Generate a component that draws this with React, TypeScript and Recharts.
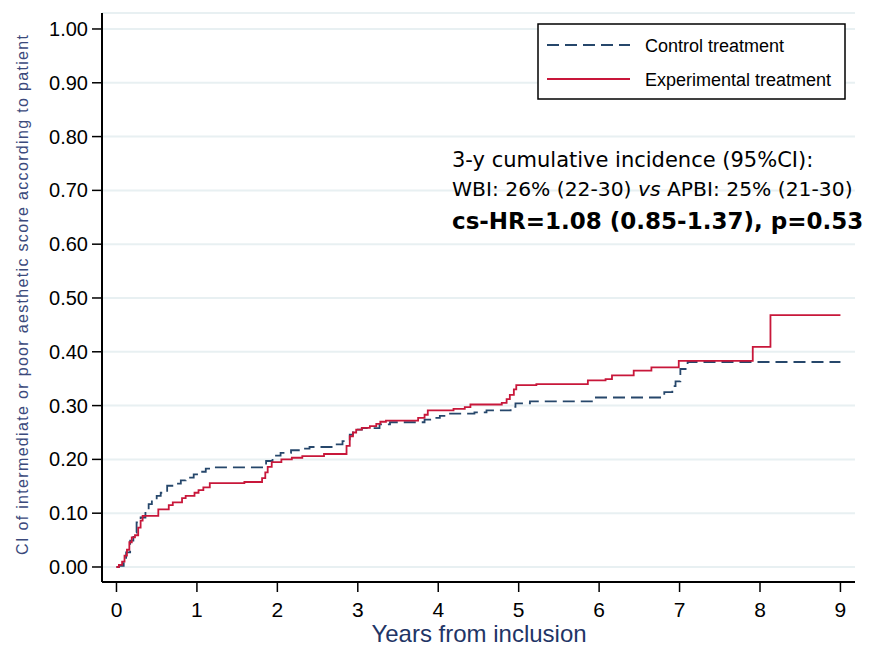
import React from 'react';
import { LineChart, Line, XAxis, YAxis, CartesianGrid } from 'recharts';

const yearTicks = [0, 1, 2, 3, 4, 5, 6, 7, 8, 9];
const ciTicks = [0, 0.1, 0.2, 0.3, 0.4, 0.5, 0.6, 0.7, 0.8, 0.9, 1.0];

const seriesNames = ['Control treatment', 'Experimental treatment'];

const controlTime = [0, 0.03, 0.09, 0.12, 0.17, 0.21, 0.25, 0.3, 0.36, 0.4, 0.44, 0.5, 0.55, 0.63, 0.73, 0.8, 0.86, 0.96, 1.02, 1.11, 1.21, 1.81, 1.86, 1.94, 2.04, 2.17, 2.31, 2.4, 2.69, 2.81, 2.9, 2.94, 3.05, 3.27, 3.4, 3.83, 3.9, 4.02, 4.1, 4.45, 4.6, 4.9, 4.96, 5.14, 5.94, 6.81, 6.91, 6.95, 7.01, 7.1, 9.0];
const controlCI = [0, 0.002, 0.012, 0.027, 0.049, 0.064, 0.083, 0.092, 0.104, 0.117, 0.125, 0.132, 0.138, 0.151, 0.155, 0.161, 0.166, 0.172, 0.177, 0.183, 0.185, 0.189, 0.197, 0.207, 0.212, 0.217, 0.22, 0.223, 0.228, 0.234, 0.246, 0.2555, 0.258, 0.265, 0.269, 0.274, 0.277, 0.281, 0.285, 0.2875, 0.291, 0.2975, 0.304, 0.308, 0.315, 0.325, 0.336, 0.345, 0.368, 0.381, 0.381];

const experimentalTime = [0, 0.03, 0.07, 0.1, 0.13, 0.16, 0.19, 0.23, 0.27, 0.3, 0.325, 0.52, 0.65, 0.7, 0.815, 0.86, 0.97, 1.02, 1.08, 1.16, 1.59, 1.81, 1.85, 1.88, 1.93, 2.05, 2.18, 2.31, 2.58, 2.86, 2.9, 2.94, 2.98, 3.05, 3.15, 3.23, 3.28, 3.35, 3.75, 3.83, 3.87, 4.19, 4.33, 4.4, 4.79, 4.85, 4.89, 4.94, 4.97, 5.22, 5.86, 6.08, 6.16, 6.43, 6.65, 6.99, 7.91, 8.13, 9.0];
const experimentalCI = [0, 0.004, 0.01, 0.021, 0.032, 0.046, 0.055, 0.059, 0.073, 0.086, 0.095, 0.107, 0.115, 0.12, 0.128, 0.132, 0.138, 0.143, 0.148, 0.156, 0.158, 0.165, 0.176, 0.186, 0.195, 0.2, 0.203, 0.206, 0.21, 0.225, 0.243, 0.25, 0.2555, 0.2585, 0.262, 0.266, 0.27, 0.272, 0.277, 0.283, 0.291, 0.294, 0.297, 0.302, 0.305, 0.312, 0.32, 0.33, 0.338, 0.34, 0.347, 0.349, 0.356, 0.365, 0.371, 0.383, 0.409, 0.468, 0.468];

const controlData = controlTime.map((t, i) => ({ t, ci: controlCI[i] }));
const experimentalData = experimentalTime.map((t, i) => ({ t, ci: experimentalCI[i] }));

const BLUE = '#26476b';
const RED = '#c8173a';
const SANS = '"Liberation Sans", Arial, sans-serif';
const DV = '"DejaVu Sans", sans-serif';

export default function App() {
  return (
    <div style={{ position: 'absolute', left: 0, top: 0, width: 870, height: 646, background: '#fff' }}>
      <LineChart
        width={870}
        height={646}
        margin={{ top: 13, right: 15, left: 10, bottom: 0 }}
      >
        <CartesianGrid vertical={false} stroke="#e8f0f2" strokeWidth={2} />
        <XAxis
          dataKey="t"
          type="number"
          domain={[-0.18, 9.181]}
          ticks={yearTicks}
          allowDataOverflow
          height={64}
          tickSize={10}
          tickMargin={10}
          axisLine={{ stroke: '#000', strokeWidth: 2 }}
          tickLine={{ stroke: '#000', strokeWidth: 1.5 }}
          tick={{ fontSize: 21, fill: '#000', fontFamily: SANS }}
        />
        <YAxis
          type="number"
          domain={[-0.0279, 1.0297]}
          ticks={ciTicks}
          allowDataOverflow
          width={92}
          tickSize={10}
          tickMargin={4}
          tickFormatter={(v: number) => v.toFixed(2)}
          axisLine={{ stroke: '#000', strokeWidth: 2 }}
          tickLine={{ stroke: '#000', strokeWidth: 1.5 }}
          tick={{ fontSize: 20, fill: '#000', fontFamily: SANS }}
        />
        <Line
          data={controlData}
          dataKey="ci"
          name={seriesNames[0]}
          type="stepAfter"
          stroke={BLUE}
          strokeWidth={1.8}
          strokeDasharray="12 6"
          dot={false}
          isAnimationActive={false}
        />
        <Line
          data={experimentalData}
          dataKey="ci"
          name={seriesNames[1]}
          type="stepAfter"
          stroke={RED}
          strokeWidth={1.8}
          dot={false}
          isAnimationActive={false}
        />
      </LineChart>
      <svg
        width={870}
        height={646}
        style={{ position: 'absolute', left: 0, top: 0, pointerEvents: 'none' }}
      >
        <rect x={538} y={24} width={307} height={75} fill="#fff" stroke="#000" strokeWidth={1.5} />
        <line x1={547} y1={45} x2={630} y2={45} stroke={BLUE} strokeWidth={2} strokeDasharray="12 6" />
        <line x1={547} y1={79} x2={630} y2={79} stroke={RED} strokeWidth={2} />
        <text x={645} y={51.5} fontSize={18} fontFamily={SANS} fill="#000">{seriesNames[0]}</text>
        <text x={645} y={85.5} fontSize={18} fontFamily={SANS} fill="#000">{seriesNames[1]}</text>

        <text x={452} y={167} fontSize={21} fontFamily={DV} fill="#000">3-y cumulative incidence (95%CI):</text>
        <text x={452} y={196} fontSize={20.3} fontFamily={DV} fill="#000">
          WBI: 26% (22-30) <tspan fontStyle="italic">vs</tspan> APBI: 25% (21-30)
        </text>
        <text x={452} y={229} fontSize={23} fontWeight="bold" fontFamily={DV} fill="#000">cs-HR=1.08 (0.85-1.37), p=0.53</text>

        <text
          x={0}
          y={0}
          transform="translate(28,295) rotate(-90)"
          textAnchor="middle"
          fontSize={16}
          fontFamily={SANS}
          fill="#3b4a7c"
          textLength={520}
          lengthAdjust="spacing"
        >
          CI of intermediate or poor aesthetic score according to patient
        </text>
        <text x={479} y={642} textAnchor="middle" fontSize={24} fontFamily={SANS} fill="#1f3566">
          Years from inclusion
        </text>
      </svg>
    </div>
  );
}
